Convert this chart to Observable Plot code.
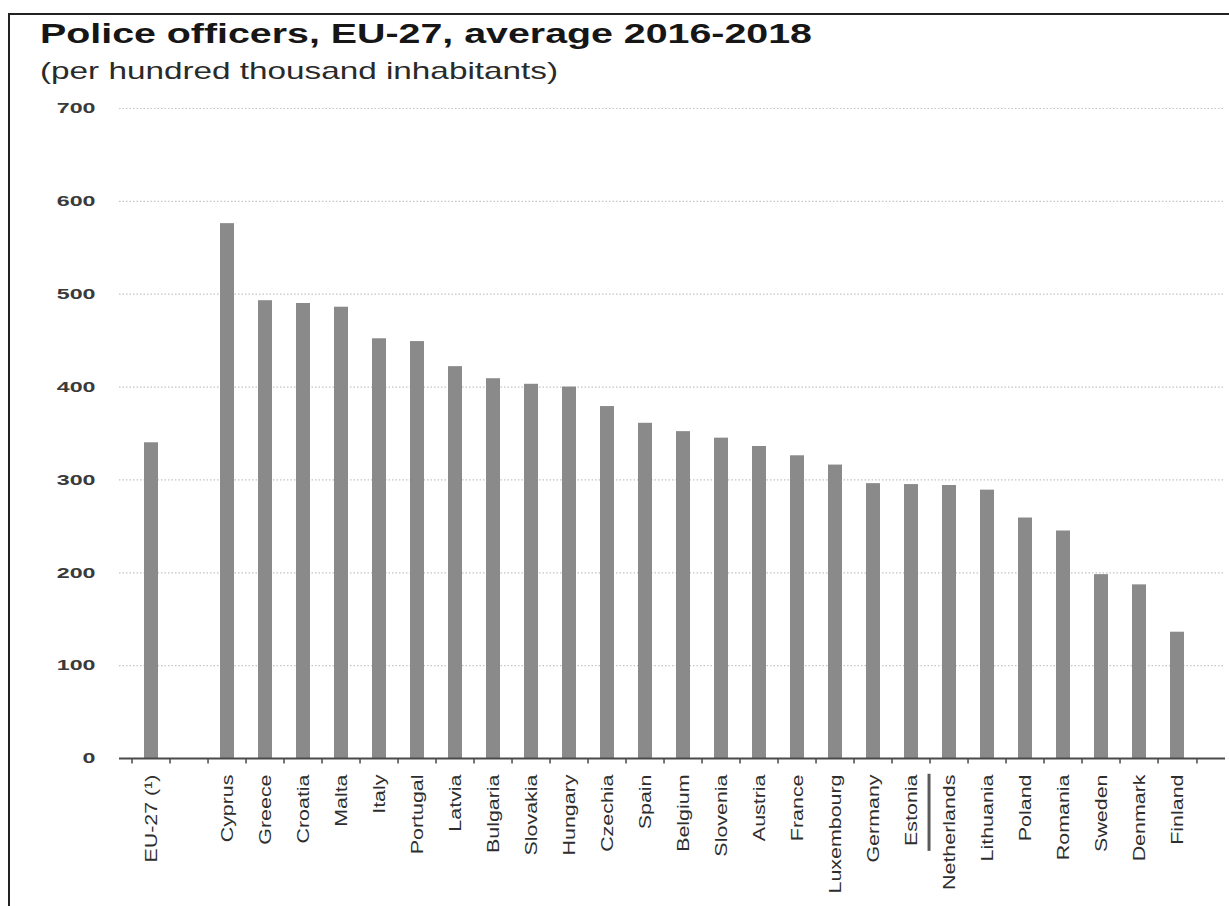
<!DOCTYPE html>
<html>
<head>
<meta charset="utf-8">
<script src="https://cdn.jsdelivr.net/npm/d3@7"></script>
<script src="https://cdn.jsdelivr.net/npm/@observablehq/plot@0.6"></script>
<style>
  html, body { margin: 0; padding: 0; background: #fff; }
  body { width: 1229px; height: 906px; overflow: hidden; position: relative; font-family: "Liberation Sans", Arial, sans-serif; }
  #frame { position: absolute; left: 8px; top: 13px; width: 1300px; height: 1000px; border-left: 2px solid #222; border-top: 2px solid #222; pointer-events: none; }
  #header { position: relative; height: 88px; }
  #title { position: absolute; left: 40px; top: 19px; font-size: 28px; line-height: 30px; font-weight: bold; color: #161616; white-space: nowrap; transform-origin: 0 0; }
  #subtitle { position: absolute; left: 40px; top: 56px; font-size: 24px; line-height: 30px; color: #2a2a2a; white-space: nowrap; transform-origin: 0 0; }
  #chart svg { display: block; }
</style>
</head>
<body>
<div id="frame"></div>
<div id="header">
  <div id="title">Police officers, EU-27, average 2016-2018</div>
  <div id="subtitle">(per hundred thousand inhabitants)</div>
</div>
<div id="chart"></div>
<script>
// ---- data ----
const aggregate = ["EU-27 (¹)"];
const aggregateValues = [340];
const countries = ["Cyprus", "Greece", "Croatia", "Malta", "Italy", "Portugal", "Latvia", "Bulgaria", "Slovakia", "Hungary", "Czechia", "Spain", "Belgium", "Slovenia", "Austria", "France", "Luxembourg", "Germany", "Estonia", "Netherlands", "Lithuania", "Poland", "Romania", "Sweden", "Denmark", "Finland"];
const countryValues = [576, 493, 490, 486, 452, 449, 422, 409, 403, 400, 379, 361, 352, 345, 336, 326, 316, 296, 295, 294, 289, 259, 245, 198, 187, 136];
const gapLabel = " ";
const yTicks = [0, 100, 200, 300, 400, 500, 600, 700];
const gridTicks = [100, 200, 300, 400, 500, 600, 700];

// ---- derived table ----
const xDomain = [...aggregate, gapLabel, ...countries];
const rows = [
  ...aggregate.map((c, i) => ({category: c, value: aggregateValues[i]})),
  ...countries.map((c, i) => ({category: c, value: countryValues[i]}))
];

// fit header texts
function fitWidth(id, target) {
  const el = document.getElementById(id);
  const w = el.getBoundingClientRect().width;
  el.style.transform = `scale(${target / w}, 1)`;
}
fitWidth("title", 772);
fitWidth("subtitle", 518);

const W = 1229, H = 818;
const xLeft = 119, xRight = 1209;
const step = (xRight - xLeft) / xDomain.length;

const chart = Plot.plot({
  width: W,
  height: H,
  marginTop: 20,
  marginBottom: 148,
  marginLeft: xLeft,
  marginRight: 4,
  style: {fontFamily: "Liberation Sans, Arial, sans-serif", background: "#fff", overflow: "visible"},
  x: {domain: xDomain, range: [xLeft, xRight], paddingInner: 0.62, paddingOuter: 0.31, label: null},
  y: {domain: [0, 700], label: null},
  marks: [
    Plot.gridY(gridTicks, {stroke: "#c4c4c4", strokeOpacity: 1, strokeDasharray: "1.5,2", strokeWidth: 1.2}),
    Plot.barY(rows, {x: "category", y: "value", fill: "#8a8a8a"}),
    Plot.ruleY([0], {stroke: "#4a4a4a", strokeWidth: 2}),
    Plot.ruleX(xDomain, {x: d => d, dx: -step / 2, y1: 0, y2: -6, stroke: "#4a4a4a", strokeWidth: 1.5}),
    Plot.ruleX([countries[countries.length - 1]], {x: d => d, dx: step / 2, y1: 0, y2: -6, stroke: "#4a4a4a", strokeWidth: 1.5}),
    Plot.ruleX(["Netherlands"], {x: d => d, dx: -step / 2 - 1, y1: -17, y2: -100, stroke: "#5a5a5a", strokeWidth: 3}),
    Plot.axisY(yTicks, {tickSize: 0, tickPadding: 24, fontSize: 15, fontWeight: "bold", fill: "#3a3a3a"}),
    Plot.axisX({tickSize: 0, tickPadding: 16, tickRotate: -90, fontSize: 17, fill: "#2e2e2e"})
  ]
});
document.getElementById("chart").appendChild(chart);

// horizontal stretch of y tick labels, lengthwise stretch of x labels
function stretch(selector, sx) {
  chart.querySelectorAll(selector).forEach(el => {
    const t = el.getAttribute("transform");
    if (t) el.setAttribute("transform", t + ` scale(${sx},1)`);
    else {
      const x = +el.getAttribute("x") || 0;
      el.setAttribute("transform", `translate(${x},0) scale(${sx},1) translate(${-x},0)`);
    }
  });
}
stretch('g[aria-label="y-axis tick label"] text', 1.55);
stretch('g[aria-label="x-axis tick label"] text', 1.26);
</script>
</body>
</html>
